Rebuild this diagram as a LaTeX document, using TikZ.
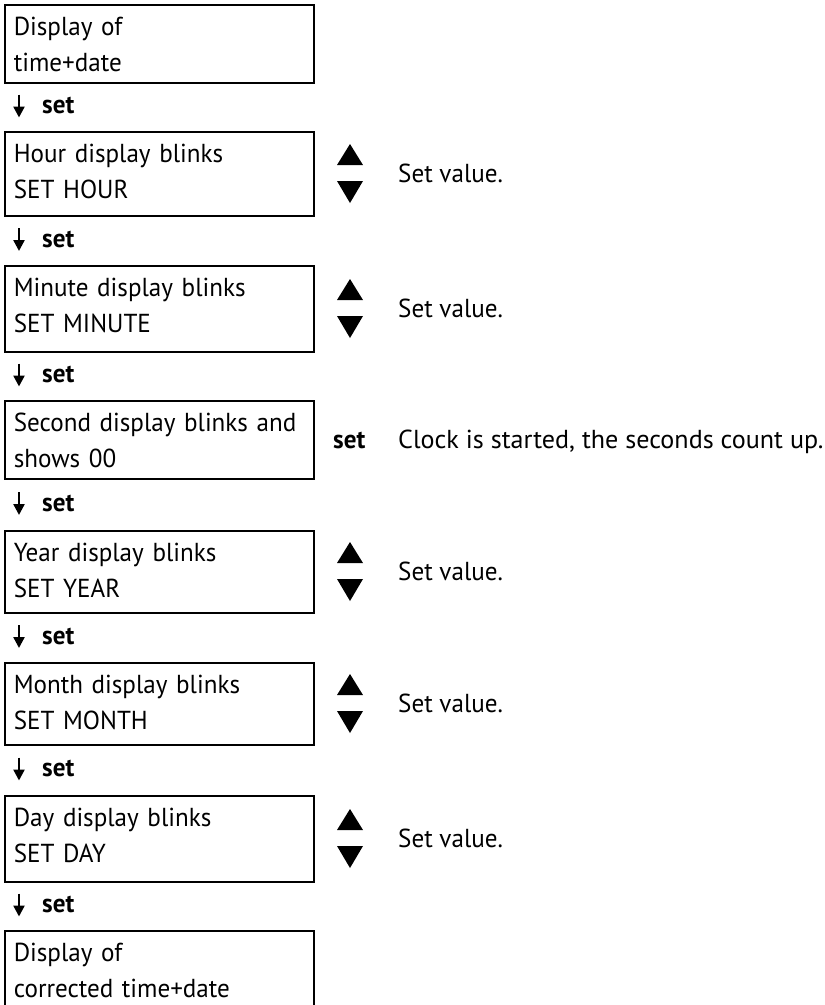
\documentclass[tikz,border=0pt]{standalone}
\usepackage{fontspec}
\usepackage{graphicx}
\setmainfont[FakeStretch=0.965]{PT Sans}
\usetikzlibrary{arrows.meta}
\newcommand{\boxtext}[3]{\rule{0pt}{31pt}\mbox{#2}\\\mbox{#3}\rule[-#1pt]{0pt}{#1pt}}
\begin{document}
\begin{tikzpicture}[x=1pt,y=-1pt,
  txt/.style={font=\fontsize{26}{36}\selectfont},
  box/.style={txt, draw, line width=1.6pt, anchor=north west, text width=291pt,
    align=left, inner xsep=9pt, inner ysep=0pt},
  lbl/.style={txt, anchor=base west, inner sep=0pt},
  setlbl/.style={lbl, font=\fontsize{26}{36}\selectfont\bfseries},
  arr/.style={line width=2.4pt, -{Triangle[length=11pt,width=11pt]}},
  tri/.style={fill=black}]
\useasboundingbox (0,0) rectangle (825,1005);

% boxes
\node[box] (b1) at (4,4)   {\boxtext{11}{Display of}{time+date}};
\node[box] (b2) at (4,131) {\boxtext{17}{Hour display blinks}{SET HOUR}};
\node[box] (b3) at (4,265) {\boxtext{19}{Minute display blinks}{SET MINUTE}};
\node[box] (b4) at (4,400) {\boxtext{11}{Second display blinks and}{shows 00}};
\node[box] (b5) at (4,530) {\boxtext{15}{Year display blinks}{SET YEAR}};
\node[box] (b6) at (4,662) {\boxtext{15}{Month display blinks}{SET MONTH}};
\node[box] (b7) at (4,795) {\boxtext{19}{Day display blinks}{SET DAY}};
\node[box] (b8) at (4,930) {\boxtext{23}{Display of}{corrected time+date}};

% down arrows with "set"
\foreach \i/\c in {1/106.5, 2/240, 3/375.5, 4/504, 5/637, 6/769.5, 7/905.5} {
  \coordinate (as\i) at (19,\c-12);
  \coordinate (ae\i) at (19,\c+11);
  \draw[arr] (as\i) -- (ae\i);
  \node[setlbl] (s\i) at (42,\c+7) {set};
}

% up/down triangles and "Set value."
\foreach \n/\c in {2/173, 3/308, 5/571, 6/703, 7/838} {
  \fill[tri] (350,\c-29) -- (363,\c-8) -- (337,\c-8) -- cycle;
  \fill[tri] (350,\c+30) -- (363,\c+8) -- (337,\c+8) -- cycle;
  \node[lbl] (v\n) at (398,\c+9) {Set value.};
}

% second row
\node[setlbl] (s4r) at (333,448) {set};
\node[lbl] (c4) at (398,448) {\scalebox{1.04}[1]{Clock is started, the seconds count up.}};
\end{tikzpicture}
\end{document}
